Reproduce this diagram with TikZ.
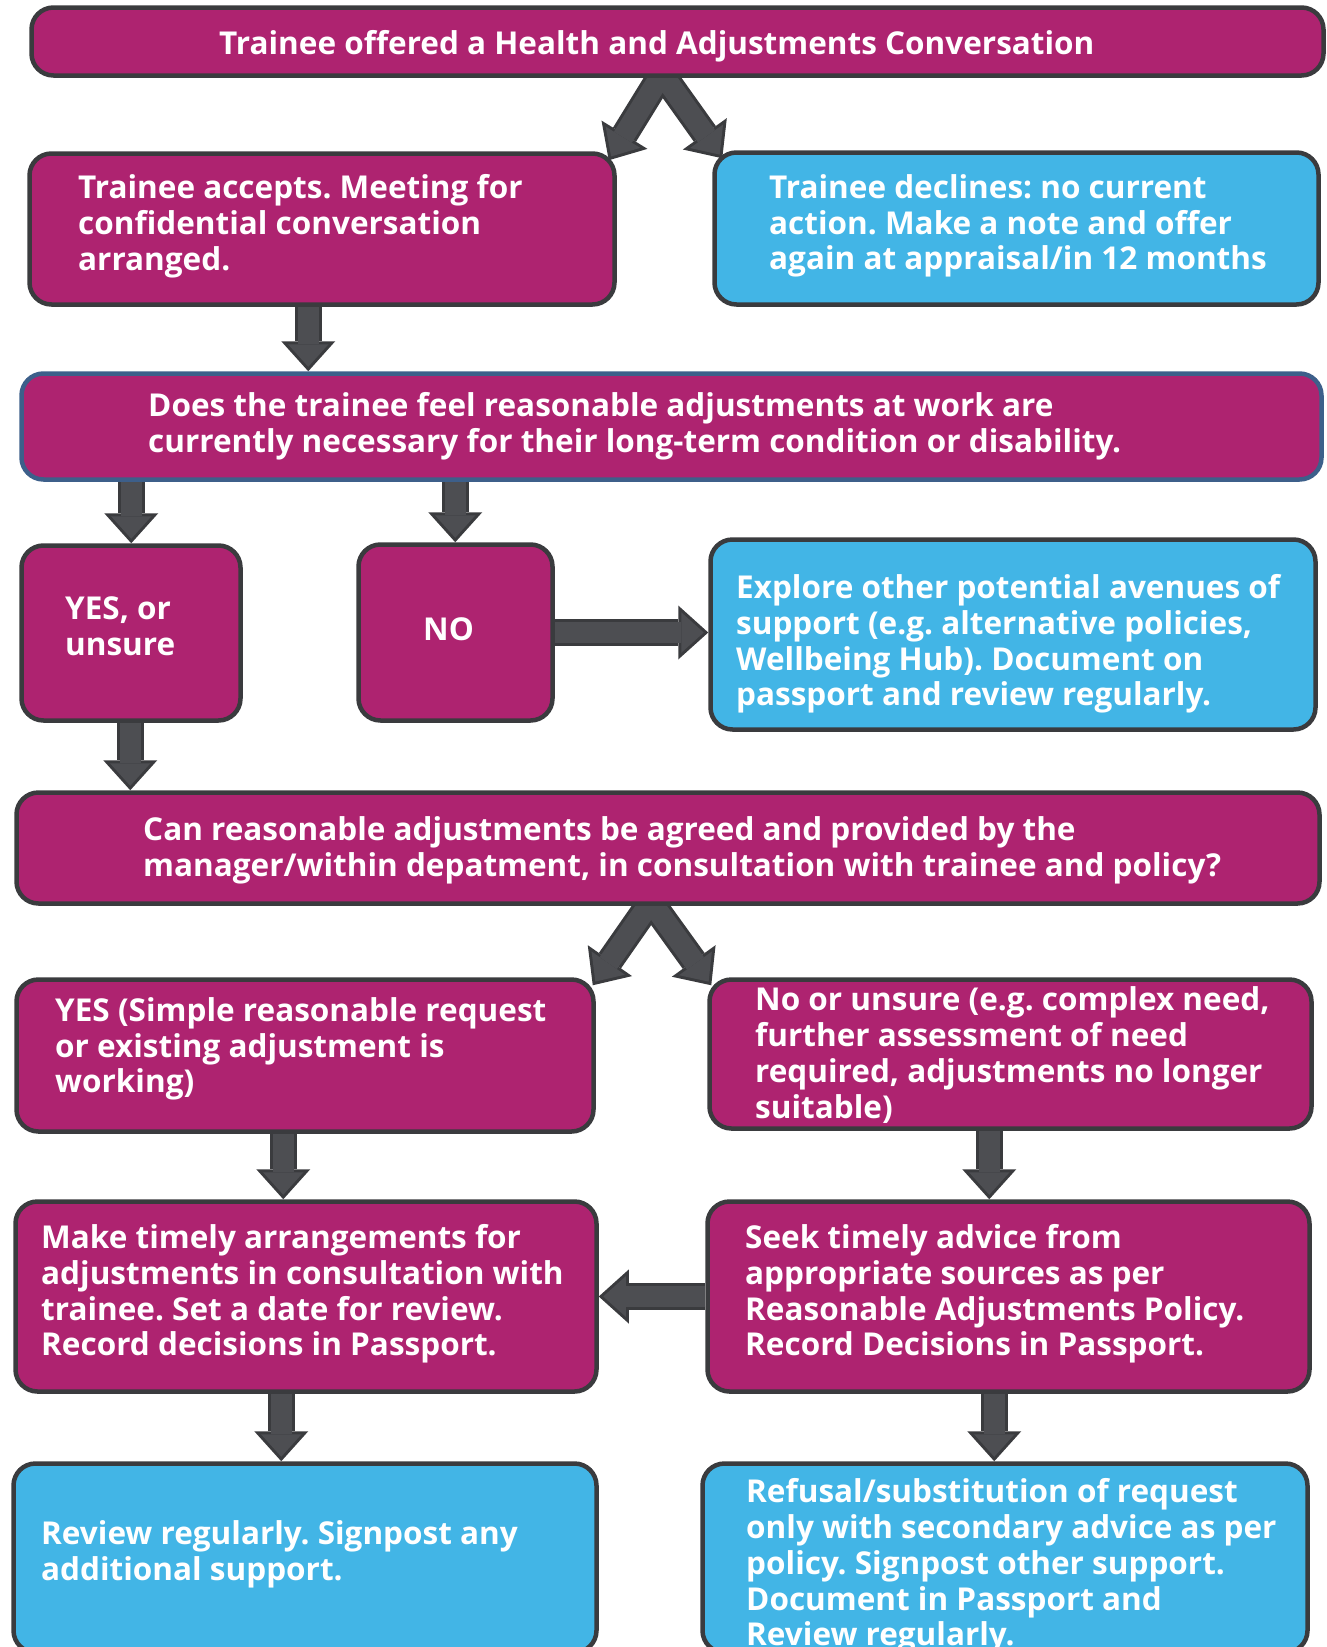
\documentclass[tikz,border=0pt]{standalone}
\usepackage{fontspec}
\setmainfont{Open Sans}
\usetikzlibrary{arrows.meta,calc}
\definecolor{mag}{RGB}{174,35,112}
\definecolor{sky}{RGB}{66,181,230}
\definecolor{edge}{RGB}{58,59,62}
\definecolor{arrin}{RGB}{77,78,82}
\definecolor{bluedge}{RGB}{61,95,138}
\pgfdeclarelayer{bg}
\pgfsetlayers{bg,main}
\frenchspacing
\begin{document}
\begin{tikzpicture}[x=1pt,y=-1pt,
  box/.style={draw=edge, line width=4.5pt, rounded corners=22pt, inner sep=0pt},
  mbox/.style={box, fill=mag},
  bbox/.style={box, fill=sky},
  txt/.style={inner sep=0pt, align=left, text=white, anchor=west, font=\bfseries\fontsize{31.5}{35.8}\selectfont},
  fatout/.style={draw=edge, line width=27pt, -{Triangle[length=30pt,width=54pt,line width=0pt]}},
  fatin/.style={draw=arrin, line width=21pt, shorten >=4.5pt, -{Triangle[length=22.5pt,width=40.5pt,line width=0pt]}}]
\useasboundingbox (0,0) rectangle (1327,1647);
\clip (0,0) rectangle (1327,1647);

% boxes
\node[mbox, minimum width=1292pt, minimum height=68pt] (b1) at (677.5,41.5) {};
\node[mbox, minimum width=585pt, minimum height=151pt] (b2) at (322,229) {};
\node[bbox, minimum width=604pt, minimum height=152pt] (b3) at (1016.5,228.5) {};
\node[mbox, draw=bluedge, minimum width=1300pt, minimum height=106pt] (b4) at (671.5,426.5) {};
\node[mbox, minimum width=219pt, minimum height=175pt] (b5) at (131,633) {};
\node[mbox, minimum width=194pt, minimum height=176pt] (b6) at (455.5,632.5) {};
\node[bbox, minimum width=605pt, minimum height=190pt] (b7) at (1013,634.5) {};
\node[mbox, minimum width=1303pt, minimum height=111pt] (b8) at (668,848) {};
\node[mbox, minimum width=577pt, minimum height=152pt] (b9) at (305,1055.5) {};
\node[mbox, minimum width=602pt, minimum height=149pt] (b10) at (1010.5,1054) {};
\node[mbox, minimum width=581pt, minimum height=190pt] (b11) at (306,1296.5) {};
\node[mbox, minimum width=602pt, minimum height=190pt] (b12) at (1008.5,1296.5) {};
\node[bbox, minimum width=583pt, minimum height=189pt] (b13) at (305,1558) {};
\node[bbox, minimum width=605pt, minimum height=189pt] (b14) at (1005,1558) {};

% texts
\node[txt] (t1) at (219,46) {Trainee offered a Health and Adjustments Conversation};
\node[txt] (t2) at (78,226) {Trainee accepts. Meeting for\\confidential conversation\\arranged.};
\node[txt] (t3) at (769,226) {Trainee declines: no current\\action. Make a note and offer\\again at appraisal/in 12 months};
\node[txt] (t4) at (148,426) {Does the trainee feel reasonable adjustments at work are\\currently necessary for their long-term condition or disability.};
\node[txt] (t5) at (65,626) {YES, or\\unsure};
\node[txt] (t6) at (423,629) {NO};
\node[txt] (t7) at (736,644) {Explore other potential avenues of\\support (e.g. alternative policies,\\Wellbeing Hub). Document on\\passport and review regularly.};
\node[txt] (t8) at (143,850) {Can reasonable adjustments be agreed and provided by the\\manager/within depatment, in consultation with trainee and policy?};
\node[txt] (t9) at (55,1049) {YES (Simple reasonable request\\or existing adjustment is\\working)};
\node[txt] (t10) at (755,1055) {No or unsure (e.g. complex need,\\further assessment of need\\required, adjustments no longer\\suitable)};
\node[txt] (t11) at (41,1294) {Make timely arrangements for\\adjustments in consultation with\\trainee. Set a date for review.\\Record decisions in Passport.};
\node[txt] (t12) at (745,1294) {Seek timely advice from\\appropriate sources as per\\Reasonable Adjustments Policy.\\Record Decisions in Passport.};
\node[txt] (t13) at (41,1554) {Review regularly. Signpost any\\additional support.};
\node[txt] (t14) at (746,1566) {Refusal/substitution of request\\only with secondary advice as per\\policy. Signpost other support.\\Document in Passport and\\Review regularly.};

% connector coordinates
\coordinate (a1s) at ($(b1.south)+(-15.5,-4)$);
\coordinate (a1l) at ($(b2.north east)+(-8,9)$);
\coordinate (a1r) at ($(b3.north west)+(10,8)$);
\coordinate (a7s) at ($(b8.south)+(-17,-4)$);
\coordinate (a7l) at ($(b9.north east)+(-3,8)$);
\coordinate (a7r) at ($(b10.north west)+(4,8)$);
\coordinate (a2) at ($(b2.south west)+(281,0)$);
\coordinate (a3) at ($(b4.south west)+(112,0)$);
\coordinate (a4) at ($(b4.south west)+(436,0)$);
\coordinate (a6) at ($(b5.south west)+(111,0)$);
\coordinate (a8) at ($(b9.south west)+(269,0)$);
\coordinate (a9) at ($(b10.south west)+(282,0)$);
\coordinate (a11) at ($(b11.south west)+(268,0)$);
\coordinate (a12) at ($(b12.south west)+(289,0)$);

\begin{pgfonlayer}{bg}
\foreach \st in {fatout,fatin}{
  \draw[\st] (a1s) -- (a1l);
  \draw[\st] (a1s) -- (a1r);
  \draw[\st] (a7s) -- (a7l);
  \draw[\st] (a7s) -- (a7r);
  \draw[\st] (a2) -- (a2 |- b4.north);
  \draw[\st] (a3) -- (a3 |- b5.north);
  \draw[\st] (a4) -- (a4 |- b6.north);
  \draw[\st] (b6.east) -- (b6.east -| b7.west);
  \draw[\st] (a6) -- (a6 |- b8.north);
  \draw[\st] (a8) -- (a8 |- b11.north);
  \draw[\st] (a9) -- (a9 |- b12.north);
  \draw[\st] (b12.west) -- (b12.west -| b11.east);
  \draw[\st] (a11) -- (a11 |- b13.north);
  \draw[\st] (a12) -- (a12 |- b14.north);
}
\end{pgfonlayer}
\end{tikzpicture}
\end{document}
